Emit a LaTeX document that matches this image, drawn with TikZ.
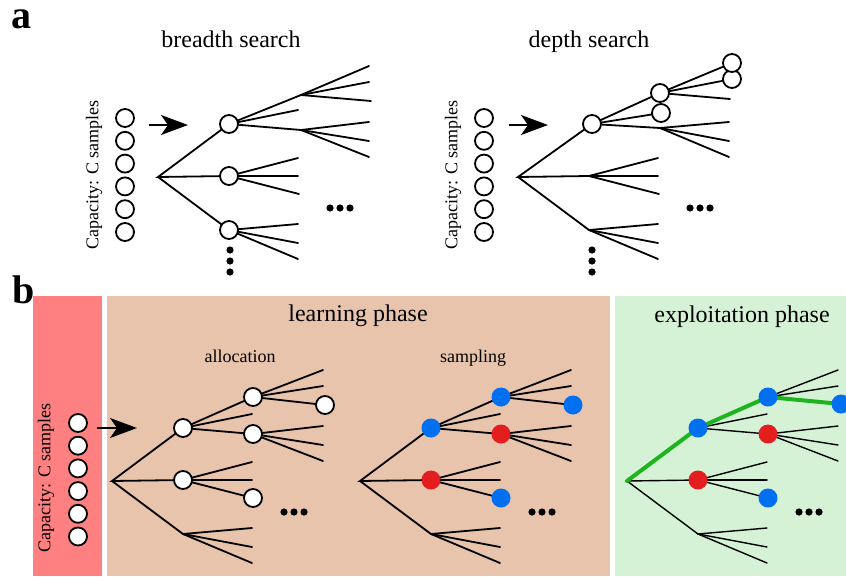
\documentclass[tikz,border=0pt]{standalone}
\usepackage{fontspec}
\setmainfont{Liberation Serif}
\usetikzlibrary{arrows.meta}
\definecolor{capred}{RGB}{255,128,128}
\definecolor{learntan}{RGB}{232,196,172}
\definecolor{exploitgreen}{RGB}{214,242,214}
\definecolor{nodeblue}{RGB}{0,112,240}
\definecolor{nodered}{RGB}{228,30,30}
\definecolor{pathgreen}{RGB}{30,180,30}
\tikzset{
  edge/.style={line width=1.8pt, black, line cap=round},
  thinedge/.style={line width=1.4pt, black, line cap=round},
  greenpath/.style={line width=4pt, pathgreen, line cap=round, line join=round},
  wcirc/.style={circle, draw=black, line width=1.8pt, fill=white, minimum size=18pt, inner sep=0pt},
  bcirc/.style={circle, fill=nodeblue, minimum size=19pt, inner sep=0pt},
  rcirc/.style={circle, fill=nodered, minimum size=19pt, inner sep=0pt},
  bigarrow/.style={line width=1.8pt, -{Stealth[length=27pt,width=20pt,inset=7pt]}},
  paneltag/.style={anchor=base west, inner sep=0pt, font=\bfseries\fontsize{40}{40}\selectfont},
  titletext/.style={anchor=base, inner sep=0pt, font=\fontsize{24}{24}\selectfont},
  subtext/.style={anchor=base, inner sep=0pt, font=\fontsize{18}{18}\selectfont},
  captext/.style={rotate=90, inner sep=0pt, font=\fontsize{18}{18}\selectfont},
}
\newcommand\treecoords[1]{%
  \coordinate (#1r) at (0,0);
  \coordinate (#1n1) at (71,-53);
  \coordinate (#1n2) at (71,-1);
  \coordinate (#1n3) at (71,53);
  \coordinate (#1c1) at (141,-84);
  \coordinate (#1s) at (140,-67);
  \coordinate (#1c2) at (141,-47);
  \coordinate (#1l11) at (211,-111);
  \coordinate (#1l12) at (211,-95);
  \coordinate (#1l13) at (213,-76);
  \coordinate (#1l21) at (211,-55);
  \coordinate (#1l22) at (211,-36);
  \coordinate (#1l23) at (211,-20);
  \coordinate (#1l31) at (140,-19);
  \coordinate (#1l32) at (140,-1);
  \coordinate (#1l33) at (141,17);
  \coordinate (#1l41) at (140,47);
  \coordinate (#1l42) at (140,66);
  \coordinate (#1l43) at (140,82);
}
\newcommand\treeedges[2]{%
  \draw[#2] (#1n1) -- (#1r) -- (#1n2) (#1r) -- (#1n3);
  \foreach \a/\b in {n1/c1,n1/s,n1/c2,c1/l11,c1/l12,c1/l13,c2/l21,c2/l22,c2/l23,n2/l31,n2/l32,n2/l33,n3/l41,n3/l42,n3/l43}
    {\draw[#2] (#1\a) -- (#1\b);}
}
\newcommand\hdotrow{\foreach \k in {0,1,2} {\fill (172+10*\k,31) circle (3.6pt);}}
\newcommand\vdotrow{\foreach \k in {0,1,2} {\fill (72,73+11*\k) circle (3.6pt);}}
\begin{document}
\begin{tikzpicture}[x=1pt,y=-1pt]
\useasboundingbox (0,0) rectangle (846,576);
% ---------- panel a ----------
\node[paneltag] (taga) at (11,28) {a};
\node[titletext] (tbreadth) at (231,47) {breadth search};
\node[titletext] (tdepth) at (589,47) {depth search};
% capacity columns
\foreach \i in {0,...,5} {\node[wcirc] (ca\i) at (125,118+22.8*\i) {};}
\foreach \i in {0,...,5} {\node[wcirc] (cb\i) at (484,118+22.8*\i) {};}
\node[captext] (capa) at (94,175) {Capacity: C samples};
\node[captext] (capb) at (453,175) {Capacity: C samples};
\coordinate (arA1) at (149,125); \coordinate (arA2) at (188,125);
\draw[bigarrow] (arA1) -- (arA2);
\coordinate (arB1) at (509,125); \coordinate (arB2) at (548,125);
\draw[bigarrow] (arB1) -- (arB2);
% breadth tree
\begin{scope}[shift={(158,177)}]
  \treecoords{bt}
  \coordinate (btc1) at (143,-82);
  \coordinate (btc2) at (143,-47);
  \treeedges{bt}{edge}
  \node[wcirc] (btn1o) at (btn1) {};
  \node[wcirc] (btn2o) at (btn2) {};
  \node[wcirc] (btn3o) at (btn3) {};
  \hdotrow \vdotrow
\end{scope}
% depth tree
\begin{scope}[shift={(518,177)}]
  \treecoords{dt}
  \coordinate (dtn1) at (74,-53);
  \coordinate (dtc1) at (142,-84);
  \coordinate (dts) at (143,-64);
  \coordinate (dtc2) at (142,-49);
  \coordinate (dtl11) at (214,-114);
  \coordinate (dtl12) at (214,-98);
  \coordinate (dtl13) at (212,-78);
  \treeedges{dt}{edge}
  \node[wcirc] (dtn1o) at (dtn1) {};
  \node[wcirc] (dtso) at (dts) {};
  \node[wcirc] (dtc1o) at (dtc1) {};
  \node[wcirc] (dtl12o) at (dtl12) {};
  \node[wcirc] (dtl11o) at (dtl11) {};
  \hdotrow
  \begin{scope}[shift={(2,0)}]\vdotrow\end{scope}
\end{scope}
% ---------- panel b ----------
\fill[capred] (33,296) rectangle (102,576);
\fill[learntan] (107,296) rectangle (610,576);
\fill[exploitgreen] (615,296) rectangle (846,576);
\node[paneltag] (tagb) at (12,303) {b};
\node[titletext] (tlearn) at (358,321) {learning phase};
\node[titletext] (texploit) at (742,322) {exploitation phase};
\node[subtext] (talloc) at (240,362) {allocation};
\node[subtext] (tsamp) at (473,362) {sampling};
\foreach \i in {0,...,5} {\node[wcirc] (cc\i) at (78,423+22.7*\i) {};}
\node[captext] (capc) at (46,478) {Capacity: C samples};
\coordinate (arC1) at (97,428); \coordinate (arC2) at (137,428);
\draw[bigarrow] (arC1) -- (arC2);
% allocation tree
\begin{scope}[shift={(112,481)}]
  \treecoords{at}
  \treeedges{at}{edge}
  \node[wcirc] (atn1o) at (atn1) {};
  \node[wcirc] (atn2o) at (atn2) {};
  \node[wcirc] (atc1o) at (atc1) {};
  \node[wcirc] (atc2o) at (atc2) {};
  \node[wcirc] (atl13o) at (atl13) {};
  \node[wcirc] (atl33o) at (atl33) {};
  \hdotrow
\end{scope}
% sampling tree
\begin{scope}[shift={(360,481)}]
  \treecoords{st}
  \treeedges{st}{edge}
  \node[bcirc] (stn1o) at (stn1) {};
  \node[rcirc] (stn2o) at (stn2) {};
  \node[bcirc] (stc1o) at (stc1) {};
  \node[rcirc] (stc2o) at (stc2) {};
  \node[bcirc] (stl13o) at (stl13) {};
  \node[bcirc] (stl33o) at (stl33) {};
  \hdotrow
\end{scope}
% exploitation tree
\begin{scope}[shift={(627,481)}]
  \treecoords{et}
  \coordinate (etl13) at (214,-77);
  \treeedges{et}{thinedge}
  \draw[greenpath] (etr) -- (etn1) -- (etc1) -- (etl13);
  \node[bcirc] (etn1o) at (etn1) {};
  \node[rcirc] (etn2o) at (etn2) {};
  \node[bcirc] (etc1o) at (etc1) {};
  \node[rcirc] (etc2o) at (etc2) {};
  \node[bcirc] (etl13o) at (etl13) {};
  \node[bcirc] (etl33o) at (etl33) {};
  \hdotrow
\end{scope}
\end{tikzpicture}
\end{document}
